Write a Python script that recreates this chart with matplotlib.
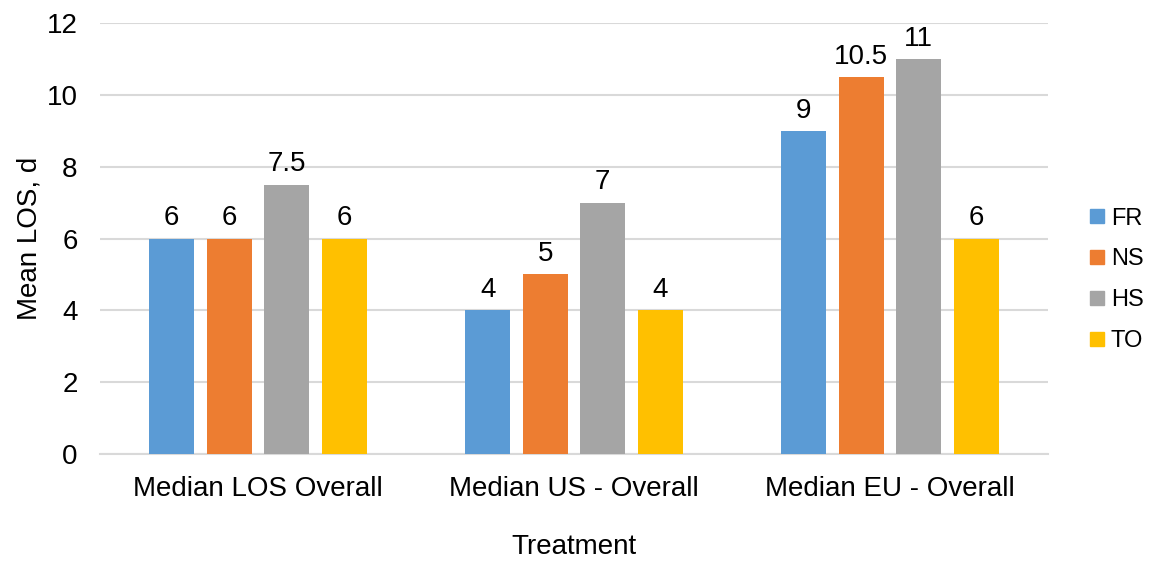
import numpy as np
import matplotlib.pyplot as plt
from matplotlib.lines import Line2D

plt.rcParams['font.family'] = ['Liberation Sans', 'DejaVu Sans']

categories = ["Median LOS Overall", "Median US - Overall", "Median EU - Overall"]
series_names = ["FR", "NS", "HS", "TO"]
fr_values = [6, 4, 9]
ns_values = [6, 5, 10.5]
hs_values = [7.5, 7, 11]
to_values = [6, 4, 6]
colors = ["#5B9BD5", "#ED7D31", "#A5A5A5", "#FFC000"]

all_values = [fr_values, ns_values, hs_values, to_values]

fig = plt.figure(figsize=(11.53, 5.61), dpi=100)
ax = fig.add_axes([0.0867, 0.1907, 0.8223, 0.7683])

x = np.arange(len(categories))
step = 0.182
width = 0.142
offsets = (np.arange(len(series_names)) - 1.5) * step

for vals, name, col, off in zip(all_values, series_names, colors, offsets):
    bars = ax.bar(x + off, vals, width, color=col, label=name, zorder=3)
    for b, v in zip(bars, vals):
        ax.text(b.get_x() + b.get_width() / 2, v + 0.2, f"{v:g}",
                ha='center', va='bottom', fontsize=20, color='#000000')

ax.set_xlim(-0.5, 2.5)
ax.set_ylim(0, 12)
ax.set_yticks(range(0, 13, 2))
ax.set_xticks(x)
ax.set_xticklabels(categories)
ax.tick_params(axis='both', length=0, labelsize=20, colors='#000000')
ax.tick_params(axis='x', pad=16)
ax.tick_params(axis='y', pad=16)
ax.grid(axis='y', color='#D9D9D9', linewidth=1.5, zorder=0)
for s in ['top', 'right', 'left']:
    ax.spines[s].set_visible(False)
ax.spines['bottom'].set_color('#D9D9D9')
ax.spines['bottom'].set_linewidth(1.5)

ax.set_xlabel("Treatment", fontsize=20, labelpad=23)
ax.set_ylabel("Mean LOS, d", fontsize=20)
ax.yaxis.set_label_coords(-0.061, 0.5)

handles = [Line2D([], [], marker='s', linestyle='', markersize=10,
                  markerfacecolor=c, markeredgecolor=c) for c in colors]
ax.legend(handles, series_names, loc='center left', bbox_to_anchor=(1.02, 0.404),
          frameon=False, fontsize=17, handletextpad=0.25, labelspacing=0.8,
          handlelength=0.7)

fig.savefig("out.png", dpi=100)
